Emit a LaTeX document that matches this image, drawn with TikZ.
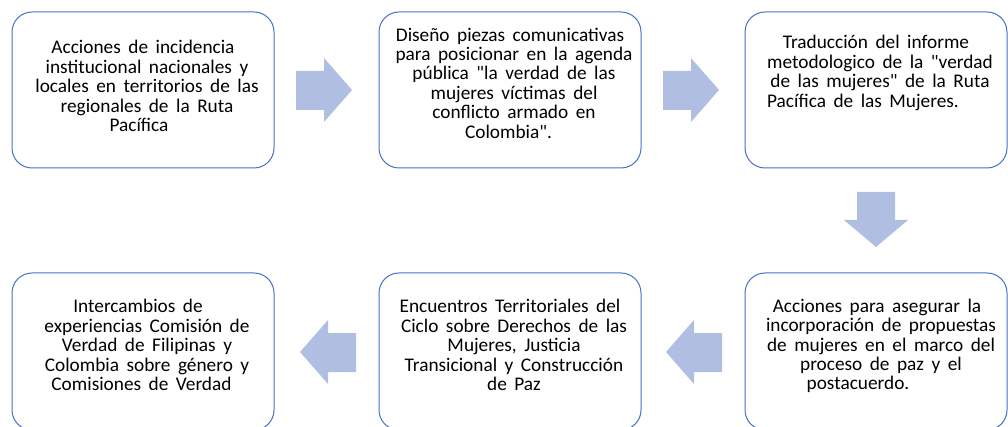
\documentclass[tikz,border=0pt]{standalone}
\usepackage{fontspec}
\setmainfont{Carlito}
\definecolor{boxblue}{HTML}{4472C4}
\definecolor{arrowblue}{RGB}{176,190,226}
\newcommand{\myboxfont}{\fontsize{19.3}{19.4}\selectfont\spaceskip=7.5pt plus 1pt minus 1pt\relax}
\newcommand{\tbx}[1][8pt]{\hspace*{#1}}
\begin{document}
\begin{tikzpicture}[x=1pt,y=-1pt,
  stepbox/.style={draw=boxblue,line width=1pt,rounded corners=20pt,fill=white},
  boxtext/.style={align=center,font=\myboxfont,inner sep=0pt},
  blockarrow/.style={fill=arrowblue,draw=none}]
\useasboundingbox (0,0) rectangle (1008,427);
% boxes
\draw[stepbox] (12,12) rectangle (274,168);
\draw[stepbox] (379,12) rectangle (641,168);
\draw[stepbox] (745,12) rectangle (1007,168);
\draw[stepbox] (12,273) rectangle (274,430);
\draw[stepbox] (379,273) rectangle (641,430);
\draw[stepbox] (745,273) rectangle (1007,430);
% texts
\node[boxtext] (t1) at (147,86) {Acciones de incidencia\tbx\\institucional nacionales y\tbx\\locales en territorios de las\tbx\\regionales de la Ruta\tbx\\Pacífica\tbx[16pt]};
\node[boxtext] (t2) at (514,83) {Diseño piezas comunicativas\tbx\\para posicionar en la agenda\tbx\\pública \textquotedbl la verdad de las\tbx\\mujeres víctimas del\tbx\\conflicto armado en\tbx\\Colombia\textquotedbl.\tbx[11pt]};
\node[boxtext] (t3) at (880,73) {Traducción del informe\tbx\\metodologico de la \textquotedbl verdad\tbx\\de las mujeres\textquotedbl{} de la Ruta\tbx\\Pacífica de las Mujeres.\tbx[34pt]};
\node[boxtext] (t4) at (881,346) {Acciones para asegurar la\tbx\\incorporación de propuestas\tbx\\de mujeres en el marco del\tbx\\proceso de paz y el\tbx\\postacuerdo.\tbx[46pt]};
\node[boxtext] (t5) at (514,345) {Encuentros Territoriales del\tbx\\Ciclo sobre Derechos de las\tbx\\Mujeres, Justicia\tbx\\Transicional y Construcción\tbx\\de Paz};
\node[boxtext] (t6) at (147,345) {Intercambios de\tbx[18pt]\\experiencias Comisión de\tbx\\Verdad de Filipinas y\tbx\\Colombia sobre género y\tbx\\Comisiones de Verdad\tbx[11pt]};
% block arrows
\fill[blockarrow] (296,71) -- (324,71) -- (324,58) -- (352,90) -- (324,122) -- (324,110) -- (296,110) -- cycle;
\fill[blockarrow] (663,71) -- (691,71) -- (691,58) -- (719,90) -- (691,122) -- (691,110) -- (663,110) -- cycle;
\fill[blockarrow] (857,192) -- (857,220) -- (844,220) -- (876,247) -- (908,220) -- (895,220) -- (895,192) -- cycle;
\fill[blockarrow] (722,333) -- (694,333) -- (694,320) -- (666,352) -- (694,384) -- (694,372) -- (722,372) -- cycle;
\fill[blockarrow] (356,333) -- (328,333) -- (328,320) -- (300,352) -- (328,384) -- (328,372) -- (356,372) -- cycle;
\end{tikzpicture}
\end{document}
